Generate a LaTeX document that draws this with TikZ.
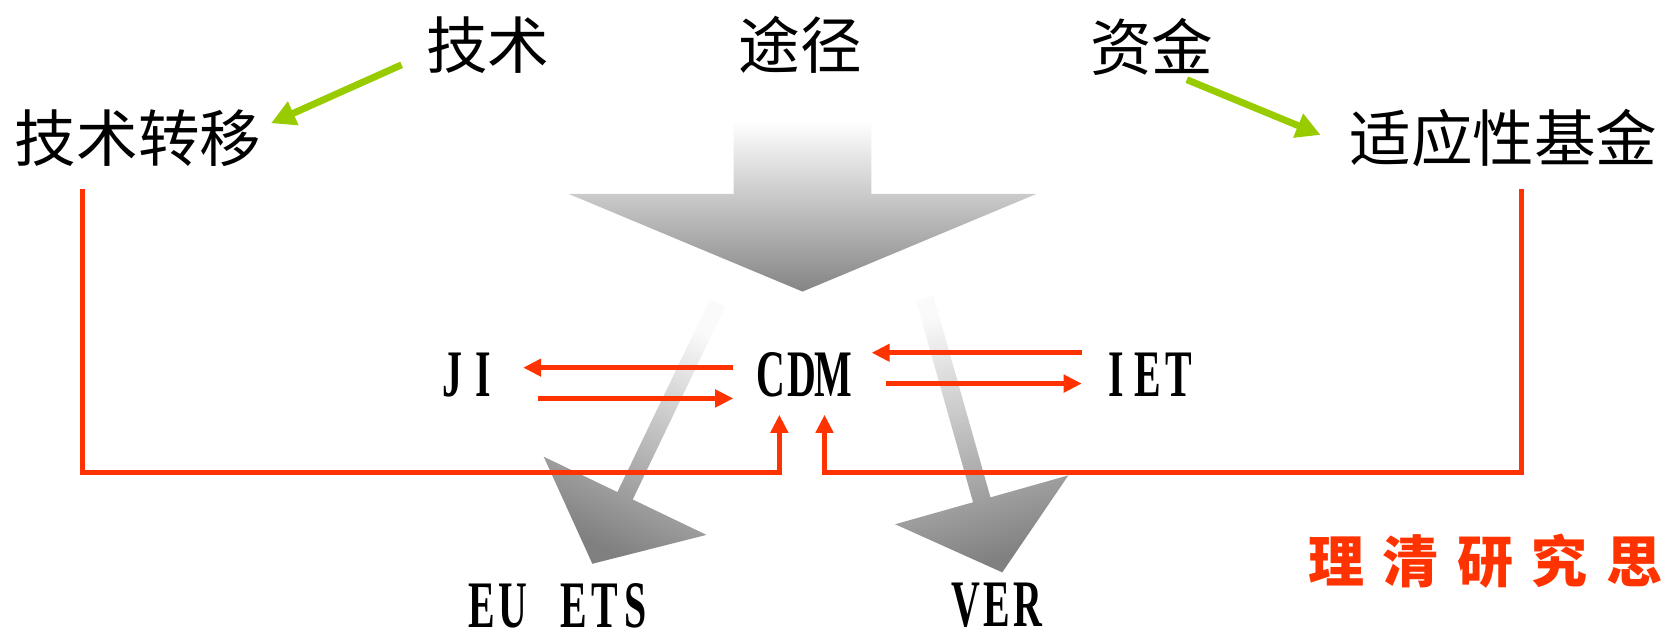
\documentclass[tikz,border=0pt]{standalone}
\usepackage{fontspec}
\newfontfamily\cjk{Noto Sans CJK SC}
\newfontfamily\latinface[FakeStretch=0.6]{Liberation Serif Bold}
\usetikzlibrary{arrows.meta}
\definecolor{lineRed}{HTML}{FF3300}
\definecolor{leafGreen}{HTML}{99CC00}
\newcommand{\cells}[2]{\def\cellw{#1}\cellsloop#2\relax}
\def\cellsloop#1{\ifx\relax#1\else\makebox[\cellw]{#1}\expandafter\cellsloop\fi}

\begin{document}
\begin{tikzpicture}[x=0.02cm, y=-0.02cm,
    >={Triangle[length=0.34cm,width=0.32cm]},
    hanzi/.style={inner sep=0pt, font=\cjk\fontsize{33}{36}\selectfont},
    latin/.style={inner sep=0pt, font=\latinface\fontsize{35.6}{40}\selectfont},
    motto/.style={inner sep=0pt, text=lineRed, font=\cjk\bfseries\fontsize{30}{34}\selectfont},
    redline/.style={draw=lineRed, line width=0.09cm, ->},
    greenarrow/.style={draw=leafGreen, line width=0.13cm, -{Triangle[length=0.46cm,width=0.46cm]}}]
    \useasboundingbox (0,0) rectangle (1568,603.3);
    % gray arrows
    \shade[top color=white, bottom color=black!48]
        (690.5,114) -- (820,114) -- (820,182.5) -- (975.5,182.5)
        -- (755.3,274.4) -- (535.2,182.5) -- (690.5,182.5) -- cycle;
    \shade[top color=black!2, bottom color=black!50, shading angle=-25.7]
        (668.1,281.9) -- (682.5,288.9) -- (595.5,470.1) -- (664.9,503.4)
        -- (557.5,530.6) -- (511.7,429.8) -- (581.1,463.1) -- cycle;
    \shade[top color=black!2, bottom color=black!50, shading angle=15.8]
        (862.1,283) -- (878.5,278.4) -- (932.2,468.1) -- (1005.5,447.4)
        -- (943.3,538.7) -- (842.5,493.4) -- (915.8,472.7) -- cycle;
    % labels
    \node[hanzi] (jishu) at (459,42) {技术};
    \node[hanzi] (tujing) at (753,42) {途径};
    \node[hanzi] (zijin) at (1084,44) {资金};
    \node[hanzi] (zhuanyi) at (130,130) {技术转移};
    \node[hanzi] (jijin) at (1415,130) {适应性基金};
    \node[latin] (JI) at (440,353) {\cells{0.58cm}{JI}};
    \node[latin] (CDM) at (755,353) {\cells{0.58cm}{CDM}};
    \node[latin] (IET) at (1080,353) {\cells{0.58cm}{IET}};
    \node[latin] (EUETS) at (526,570) {\cells{0.58cm}{EU~ETS}};
    \node[latin] (VER) at (938,570) {\cells{0.58cm}{VER}};
    \node[motto] (motto) at (1398,528) {\cells{1.4cm}{理清研究思}};
    % green arrows
    \draw[greenarrow] ([shift={(-81,19)}]jishu.center) -- ([shift={(125,-14)}]zhuanyi.center);
    \draw[greenarrow] ([shift={(33,31)}]zijin.center) -- ([shift={(-172,-3)}]jijin.center);
    % red connectors
    \draw[redline] ([shift={(-52,48)}]zhuanyi.center) -- ++(0,267) -| ([shift={(-21.5,16)}]CDM.south);
    \draw[redline] ([shift={(17,48)}]jijin.center) -- ++(0,267) -| ([shift={(21,16)}]CDM.south);
    \draw[redline] ([shift={(-21,-7)}]CDM.west) -- ([shift={(23,-7)}]JI.east);
    \draw[redline] ([shift={(37,22)}]JI.east) -- ([shift={(-21,22)}]CDM.west);
    \draw[redline] ([shift={(-18,-21)}]IET.west) -- ([shift={(21.5,-21)}]CDM.east);
    \draw[redline] ([shift={(35,8)}]CDM.east) -- ([shift={(-18,8)}]IET.west);
\end{tikzpicture}
\end{document}
